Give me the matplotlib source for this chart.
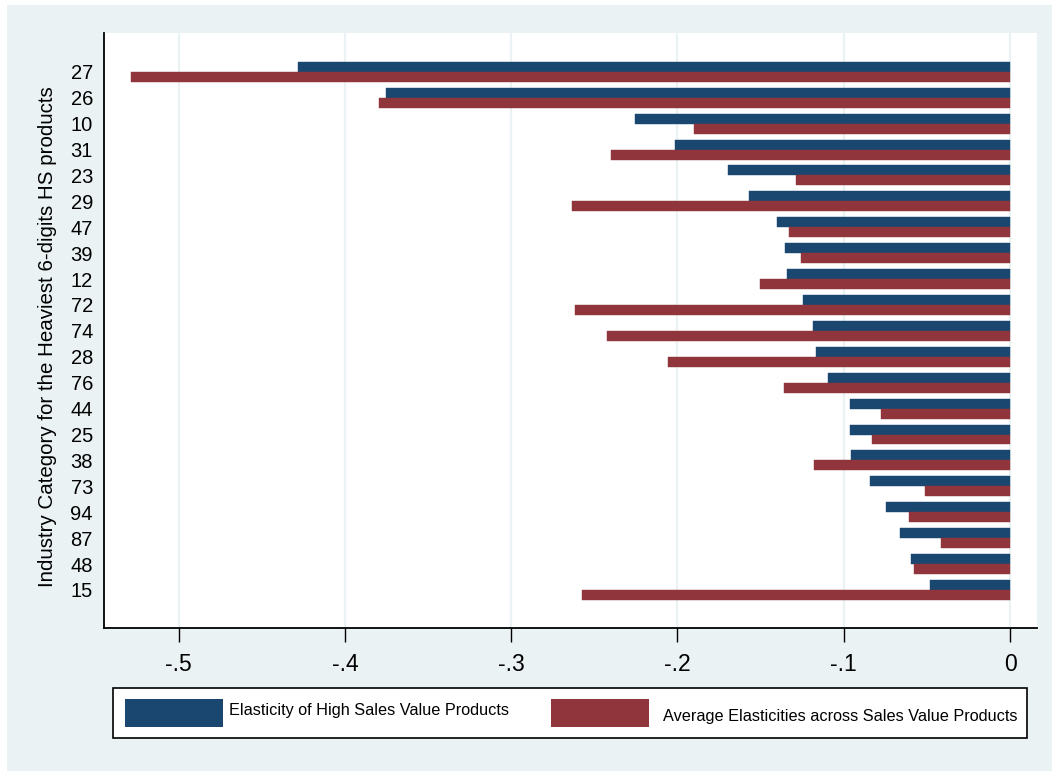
import matplotlib
matplotlib.use("Agg")
import matplotlib.pyplot as plt
from matplotlib.patches import Rectangle
import numpy as np

plt.rcParams['font.family'] = ['Liberation Sans', 'DejaVu Sans']

# Industry categories (top to bottom)
categories = ["27", "26", "10", "31", "23", "29", "47", "39", "12", "72", "74",
              "28", "76", "44", "25", "38", "73", "94", "87", "48", "15"]

# Elasticity of high sales value products
high_sales = [-0.428, -0.375, -0.2255, -0.2014, -0.1694, -0.1571, -0.1399,
              -0.1355, -0.1341, -0.1245, -0.1185, -0.1167, -0.1096, -0.0962,
              -0.0962, -0.0958, -0.0840, -0.0748, -0.0660, -0.0597, -0.0479]

# Average elasticities across sales value products
avg_sales = [-0.5288, -0.3794, -0.190, -0.2399, -0.1287, -0.2634, -0.1331,
             -0.1255, -0.1505, -0.2616, -0.2423, -0.2058, -0.1359, -0.0774,
             -0.0828, -0.1179, -0.0509, -0.0609, -0.0413, -0.0577, -0.2572]

x_ticks = [-0.5, -0.4, -0.3, -0.2, -0.1, 0.0]
x_tick_labels = ["-.5", "-.4", "-.3", "-.2", "-.1", "0"]

series_labels = ["Elasticity of High Sales Value Products",
                 "Average Elasticities across Sales Value Products"]
y_title = "Industry Category for the Heaviest 6-digits HS products"

BLUE = "#1a476f"
RED = "#90353b"
BG = "#eaf2f3"

W, H = 1052, 771
fig = plt.figure(figsize=(W / 100, H / 100), dpi=100, facecolor="white")

# light backdrop of the graph region
fig.patches.append(Rectangle((7 / W, 0), 1 - 7 / W, 1 - 5 / H,
                             transform=fig.transFigure, facecolor=BG,
                             edgecolor="none", zorder=-5))

ax = fig.add_axes([104 / W, 1 - 628 / H, (1037 - 104) / W, (628 - 33) / H])
ax.set_zorder(1)
ax.set_facecolor("white")

pos = np.arange(len(categories))
bh = 0.385
ax.barh(pos - bh / 2, high_sales, height=bh, color=BLUE, edgecolor=BLUE,
        linewidth=0.3, zorder=3)
ax.barh(pos + bh / 2, avg_sales, height=bh, color=RED, edgecolor=RED,
        linewidth=0.3, zorder=3)

ax.set_xlim(-0.5448, 0.0162)
ax.set_ylim(len(categories) - 1 + 1.47, -1.5)

ax.set_xticks(x_ticks)
ax.set_xticklabels(x_tick_labels, fontsize=16.5)
ax.set_yticks(pos)
ax.set_yticklabels(categories, fontsize=14.5)
ax.tick_params(axis="x", length=10, width=1.0, pad=8, color="black")
ax.tick_params(axis="y", length=0, pad=8)

ax.grid(axis="x", color=BG, linewidth=1.6, zorder=1)
ax.set_axisbelow(True)

for s in ["top", "right"]:
    ax.spines[s].set_visible(False)
for s in ["left", "bottom"]:
    ax.spines[s].set_linewidth(1.3)
    ax.spines[s].set_color("black")

fig.text(48 / W, 1 - 336.5 / H, y_title, rotation=90, fontsize=14.8,
         ha="center", va="center")

# legend box
fig.patches.append(Rectangle((113 / W, 1 - 738 / H), (1027 - 113) / W, 50 / H,
                             transform=fig.transFigure, facecolor="white",
                             edgecolor="black", linewidth=1.2, zorder=2))
fig.patches.append(Rectangle((125 / W, 1 - 727 / H), 98 / W, 28 / H,
                             transform=fig.transFigure, facecolor=BLUE,
                             edgecolor="none", zorder=3))
fig.patches.append(Rectangle((551 / W, 1 - 727 / H), 98 / W, 28 / H,
                             transform=fig.transFigure, facecolor=RED,
                             edgecolor="none", zorder=3))
fig.text(229 / W, 1 - 711 / H, series_labels[0], fontsize=11.7,
         ha="left", va="center", zorder=4)
fig.text(663 / W, 1 - 716 / H, series_labels[1], fontsize=11.7,
         ha="left", va="center", zorder=4)

fig.savefig("out.png", dpi=100, facecolor=fig.get_facecolor())
